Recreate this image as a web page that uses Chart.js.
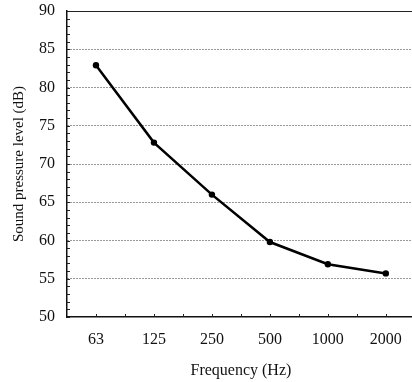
<!DOCTYPE html>
<html>
<head>
<meta charset="utf-8">
<script src="https://cdn.jsdelivr.net/npm/chart.js@4/dist/chart.umd.min.js"></script>
<style>
  html, body { margin: 0; padding: 0; background: #fff; overflow: hidden; }
  #wrap { width: 418px; height: 382px; position: relative; }
</style>
</head>
<body>
<div id="wrap"><canvas id="c"></canvas></div>
<script>
const categories = ['63', '125', '250', '500', '1000', '2000'];
const splValues = [82.9, 72.8, 66.0, 59.8, 56.9, 55.7];
const yMin = 50, yMax = 90, yStep = 5;
const xTitle = 'Frequency (Hz)';
const yTitle = 'Sound pressure level (dB)';

const serif = 'Liberation Serif, "Times New Roman", serif';

const framePlugin = {
  id: 'frame',
  afterDraw(chart) {
    const { ctx, chartArea: a, scales: { x, y } } = chart;
    ctx.save();
    ctx.strokeStyle = '#222';
    ctx.lineWidth = 1;
    ctx.beginPath();
    ctx.moveTo(a.left, a.top + 0.5);
    ctx.lineTo(a.right, a.top + 0.5);
    for (let v = yMin; v <= yMax; v += 1) {
      const py = Math.round(y.getPixelForValue(v)) + 0.5;
      ctx.moveTo(a.left, py);
      ctx.lineTo(a.left + 3, py);
    }
    for (let i = 0; i < categories.length; i++) {
      for (const d of [0, 0.5]) {
        const px = Math.round(x.getPixelForValue(i + d)) + 0.5;
        ctx.moveTo(px, a.bottom);
        ctx.lineTo(px, a.bottom - 3);
      }
    }
    ctx.stroke();
    ctx.restore();
  }
};

new Chart(document.getElementById('c'), {
  type: 'line',
  data: {
    labels: categories,
    datasets: [{
      data: splValues,
      borderColor: '#000',
      backgroundColor: '#000',
      borderWidth: 2.5,
      pointRadius: 3.2,
      pointHoverRadius: 3.2,
      pointBackgroundColor: '#000',
      pointBorderWidth: 0,
      tension: 0,
      fill: false
    }]
  },
  options: {
    responsive: true,
    maintainAspectRatio: false,
    devicePixelRatio: 1,
    animation: false,
    layout: { padding: { top: 11, right: 0, left: 0, bottom: 0 } },
    plugins: { legend: { display: false }, tooltip: { enabled: false } },
    scales: {
      x: {
        type: 'category',
        offset: true,
        grid: { display: false, drawTicks: false },
        border: { display: true, color: '#111', width: 1.5 },
        ticks: { color: '#111', font: { family: serif, size: 16 }, padding: 13, maxRotation: 0, autoSkip: false },
        title: { display: true, text: xTitle, color: '#111', font: { family: serif, size: 16 }, padding: { top: 0, bottom: 2 } },
        afterFit(scale) { scale.height = 65; scale.paddingLeft = 0; scale.paddingRight = 0; }
      },
      y: {
        min: yMin,
        max: yMax,
        ticks: { stepSize: yStep, color: '#111', font: { family: serif, size: 16 }, padding: 12 },
        grid: {
          drawTicks: false,
          lineWidth: 1,
          color: (ctx) => (ctx.tick && (ctx.tick.value === yMin || ctx.tick.value === yMax)) ? 'rgba(0,0,0,0)' : '#333'
        },
        border: { display: true, color: '#111', width: 1.5, dash: [1, 2] },
        title: { display: true, text: yTitle, color: '#111', font: { family: serif, size: 15 }, padding: { top: 10, bottom: 0 } },
        afterFit(scale) { scale.width = 67; scale.paddingTop = 0; scale.paddingBottom = 0; }
      }
    }
  },
  plugins: [framePlugin]
});
</script>
</body>
</html>
